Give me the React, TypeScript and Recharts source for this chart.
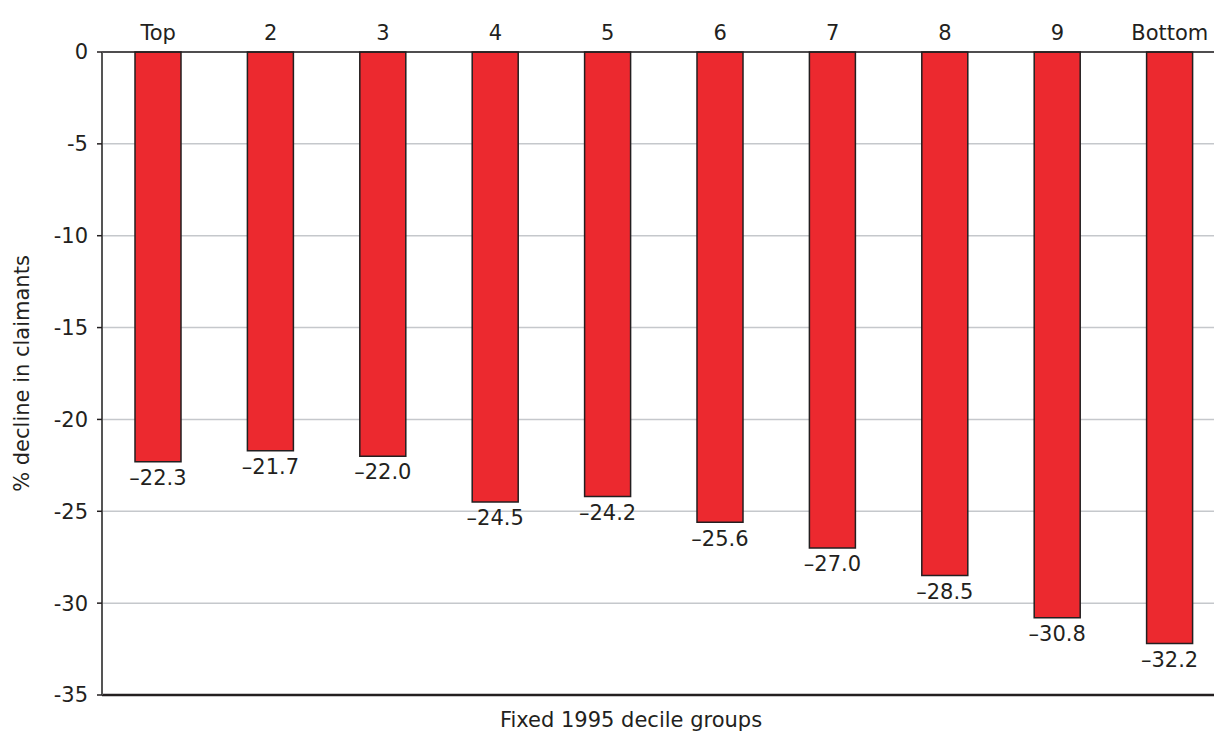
import React from 'react';
import { BarChart, Bar, XAxis, YAxis, CartesianGrid, LabelList } from 'recharts';

// Fixed 1995 decile groups, top to bottom
const deciles = ['Top', '2', '3', '4', '5', '6', '7', '8', '9', 'Bottom'];
// % decline in claimants per group
const declines = [-22.3, -21.7, -22.0, -24.5, -24.2, -25.6, -27.0, -28.5, -30.8, -32.2];
const yTicks = [0, -5, -10, -15, -20, -25, -30, -35];

const data = deciles.map((name, i) => ({ name, value: declines[i] }));

const FONT = '"DejaVu Sans", sans-serif';
const FS = 21;
const INK = '#231f20';

const fmtValue = (v: any) => Number(v).toFixed(1).replace('-', '\u2013');

// value printed just under the end of each (downward) bar
const ValueLabel = (props: any) => {
  const { x, y, width, height, value } = props;
  const end = Math.max(y, y + height);
  return (
    <text
      x={x + width / 2}
      y={end + 8}
      textAnchor="middle"
      dominantBaseline="hanging"
      fill={INK}
      fontSize={FS}
      fontFamily={FONT}
    >
      {fmtValue(value)}
    </text>
  );
};

export default function App() {
  return (
    <div
      style={{
        position: 'absolute',
        left: 0,
        top: 0,
        width: 1214,
        height: 733,
        overflow: 'hidden',
        background: '#fff',
        fontFamily: FONT,
      }}
    >
      <BarChart
        width={1226}
        height={733}
        data={data}
        margin={{ top: 0, right: 0, bottom: 0, left: 0 }}
        barCategoryGap={0}
      >
        <CartesianGrid vertical={false} stroke="#c5c8cc" strokeWidth={1.5} />
        <XAxis
          xAxisId="top"
          orientation="top"
          dataKey="name"
          height={52}
          tickLine={false}
          tickSize={0}
          tickMargin={12}
          axisLine={{ stroke: INK, strokeWidth: 1.5 }}
          tick={{ fill: INK, fontSize: FS, fontFamily: FONT }}
          interval={0}
        />
        <XAxis
          xAxisId="bottom"
          orientation="bottom"
          dataKey="name"
          height={38}
          tick={false}
          tickLine={false}
          axisLine={{ stroke: INK, strokeWidth: 2.5 }}
          label={{
            value: 'Fixed 1995 decile groups',
            position: 'insideBottom',
            dx: -33,
            offset: 6,
            fill: INK,
            fontSize: FS,
            fontFamily: FONT,
          }}
        />
        <YAxis
          width={102}
          domain={[-35, 0]}
          ticks={yTicks}
          interval={0}
          tickSize={5}
          tickMargin={9}
          axisLine={{ stroke: '#555', strokeWidth: 2 }}
          tickLine={{ stroke: INK, strokeWidth: 1.5 }}
          tick={{ fill: INK, fontSize: FS, fontFamily: FONT }}
          label={{
            value: '% decline in claimants',
            angle: -90,
            position: 'center',
            dx: -29,
            fill: INK,
            fontSize: FS,
            fontFamily: FONT,
          }}
        />
        <Bar
          xAxisId="top"
          dataKey="value"
          barSize={46}
          fill="#ec292f"
          stroke={INK}
          strokeWidth={1.5}
          isAnimationActive={false}
        >
          <LabelList dataKey="value" content={ValueLabel} />
        </Bar>
      </BarChart>
    </div>
  );
}
